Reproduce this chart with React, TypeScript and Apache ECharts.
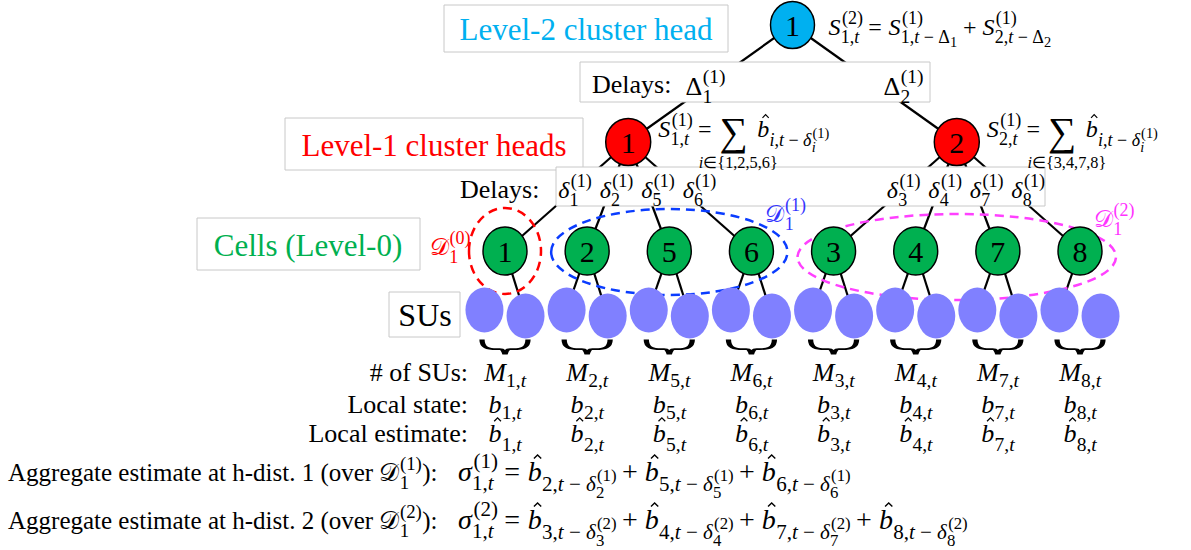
import React, { useEffect, useRef } from "react";
import * as echarts from "echarts";

// ------------------------------------------------------------------ data
const CELL_ORDER = [1, 2, 5, 6, 3, 4, 7, 8]; // cells (level-0), left to right
const LEVEL1_HEADS = [1, 2];
const LEVEL1_MEMBERS = [
  [1, 2, 5, 6],
  [3, 4, 7, 8],
];
const LEVEL2_HEAD = 1;
const SUS_PER_CELL = 2;
const NEIGHBOUR_SETS = [[1], [2, 5, 6], [3, 4, 7, 8]]; // D_1^(0), D_1^(1), D_1^(2)
const LEVEL_LABELS = ["Level-2 cluster head", "Level-1 cluster heads", "Cells (Level-0)", "SUs"];
const ROW_LABELS = ["# of SUs:", "Local state:", "Local estimate:"];
const DELAY_LABEL = "Delays:";
const AGG_LABELS = ["Aggregate estimate at h-dist. 1 (over", "Aggregate estimate at h-dist. 2 (over"];

// ------------------------------------------------------------------ layout / style
const W = 1191;
const H = 550;
const FONT = "'Liberation Serif', 'Times New Roman', serif";
const GRID_LEFT = 505;
const GRID_RIGHT = 111;
const ROW_Y = { l2: 25, l1: 142, l0: 251, su: 313, brace: 347 };
const SU_SPREAD = 0.5;
const SU_STAGGER = 6;
const NODE_SIZE = { l2: [44, 47], l1: [45, 47], l0: [44, 48], su: [38, 45] };
const SCRIPT = [0.75, 0.8];
const COL = {
  l2: "#00b0f0",
  l1: "#ff0000",
  l0: "#00b050",
  su: "#8080ff",
  sets: ["#ff0000", "#0a3cff", "#ff40ff"],
  setText: ["#ff0000", "#3535ff", "#ff33ff"],
  box: "#c8c8c8",
};
const ELLIPSE_SYMBOL = "path://M0,50 A50,50 0 1,1 100,50 A50,50 0 1,1 0,50 Z";
const BRACE_SYMBOL =
  "path://M0,0 C0,8 6,9 14,9 L17,9 C20,9 21,11 22,14 C23,11 24,9 27,9 L30,9 C38,9 44,8 44,0";

// ------------------------------------------------------------------ tiny math typesetter
type Atom = {
  t: string;
  it?: boolean;
  hat?: boolean;
  sub?: Atom[];
  sup?: Atom[];
  lim?: Atom[];
  big?: number;
  sl?: number;
  sr?: number;
};
const it = (t: string, sub?: Atom[], sup?: Atom[]): Atom => ({ t, it: true, sub, sup });
const rm = (t: string, sub?: Atom[], sup?: Atom[]): Atom => ({ t, sub, sup });
const hat = (t: string, sub?: Atom[], sup?: Atom[]): Atom => ({ t, it: true, hat: true, sub, sup });
const op = (t: string): Atom => ({ t, sl: 0.25, sr: 0.25 });
const rel = (t: string): Atom => ({ t, sl: 0.28, sr: 0.28 });
const it1t = (i: number | string): Atom[] => [rm(`${i},`), it("t")];

let mctx: CanvasRenderingContext2D | null = null;
const fontOf = (size: number, italic?: boolean) => `${italic ? "italic " : ""}${size.toFixed(1)}px ${FONT}`;
function textWidth(t: string, size: number, italic?: boolean) {
  if (!mctx) mctx = document.createElement("canvas").getContext("2d");
  mctx!.font = fontOf(size, italic);
  return mctx!.measureText(t).width;
}
function textEl(t: string, x: number, base: number, size: number, italic: boolean | undefined, color: string, align = "left") {
  return {
    type: "text",
    x,
    y: base - 0.34 * size,
    z: 20,
    silent: true,
    style: {
      text: t,
      font: fontOf(size, italic),
      fill: color,
      align,
      verticalAlign: "middle",
      textAlign: align,
      textVerticalAlign: "middle",
    },
  };
}
function layoutMath(
  atoms: Atom[],
  x: number,
  base: number,
  size: number,
  color: string,
  out: any[] | null,
  depth = 0
): number {
  let cx = x;
  for (const a of atoms) {
    cx += (a.sl || 0) * size;
    const s = size * (a.big || 1);
    const b = a.big ? base + size * 0.35 : base;
    const w = textWidth(a.t, s, a.it);
    if (out) {
      out.push(textEl(a.t, cx, b, s, a.it, color));
      if (a.hat) {
        const hc = cx + w / 2 + 0.1 * s;
        const hw = 0.13 * s;
        out.push({
          type: "polyline",
          z: 20,
          silent: true,
          shape: {
            points: [
              [hc - hw, b - 0.8 * s],
              [hc, b - 0.93 * s],
              [hc + hw, b - 0.8 * s],
            ],
          },
          style: { stroke: color, fill: "none", lineWidth: Math.max(1, 0.05 * s) },
        });
      }
    }
    const ss = Math.max(size * SCRIPT[Math.min(depth, 1)], 10);
    let sw = 0;
    if (a.sup)
      sw = Math.max(
        sw,
        layoutMath(a.sup, cx + w + (a.it ? 0.06 : 0.02) * size, base - 0.45 * size, ss, color, out, depth + 1)
      );
    if (a.sub)
      sw = Math.max(
        sw,
        layoutMath(
          a.sub,
          cx + w + 0.01 * size,
          base + size * (a.hat ? 0.36 : a.sup ? 0.32 : 0.22),
          ss,
          color,
          out,
          depth + 1
        )
      );
    if (a.lim && out) {
      const ls = size * 0.68;
      const lw = layoutMath(a.lim, 0, 0, ls, color, null, depth + 1);
      layoutMath(a.lim, cx + w / 2 + 0.2 * size - lw / 2, base + size * 1.28, ls, color, out, depth + 1);
    }
    cx += w + sw + (a.sr || 0) * size;
  }
  return cx - x;
}
const mathWidth = (atoms: Atom[], size: number) => layoutMath(atoms, 0, 0, size, "#000", null);

// ------------------------------------------------------------------ structure
const mean = (a: number[]) => a.reduce((s, v) => s + v, 0) / a.length;
const slotOf = (id: number) => CELL_ORDER.indexOf(id);
const cells = CELL_ORDER.map((id, i) => ({ id, slot: i }));
const heads1 = LEVEL1_HEADS.map((id, k) => ({ id, slot: mean(LEVEL1_MEMBERS[k].map(slotOf)), members: LEVEL1_MEMBERS[k] }));
const head2 = { id: LEVEL2_HEAD, slot: mean(heads1.map((h) => h.slot)) };
const sus = cells.flatMap((c) =>
  Array.from({ length: SUS_PER_CELL }, (_, k) => {
    const o = k - (SUS_PER_CELL - 1) / 2;
    return { cell: c, slot: c.slot + o * SU_SPREAD, y: ROW_Y.su + o * SU_STAGGER };
  })
);

function nodeItem(name: string, slot: number, y: number, size: number[], color: string, showLabel: boolean) {
  return {
    name,
    value: [slot, y],
    symbol: ELLIPSE_SYMBOL,
    symbolSize: size,
    itemStyle: { color, opacity: 1, borderColor: showLabel ? "#000" : color, borderWidth: showLabel ? 1.5 : 0 },
    label: {
      show: showLabel,
      position: "inside",
      formatter: name,
      fontFamily: FONT,
      fontSize: 30,
      color: "#000",
    },
  };
}

function baseOption() {
  const nodes = [
    nodeItem(String(head2.id), head2.slot, ROW_Y.l2, NODE_SIZE.l2, COL.l2, true),
    ...heads1.map((h) => nodeItem(String(h.id), h.slot, ROW_Y.l1, NODE_SIZE.l1, COL.l1, true)),
    ...cells.map((c) => nodeItem(String(c.id), c.slot, ROW_Y.l0, NODE_SIZE.l0, COL.l0, true)),
    ...sus.map((s) => nodeItem("", s.slot, s.y, NODE_SIZE.su, COL.su, false)),
  ];
  const edges = [
    ...heads1.map((h) => ({ coords: [[head2.slot, ROW_Y.l2], [h.slot, ROW_Y.l1]] })),
    ...heads1.flatMap((h) => h.members.map((m) => ({ coords: [[h.slot, ROW_Y.l1], [slotOf(m), ROW_Y.l0]] }))),
    ...sus.map((s) => ({ coords: [[s.cell.slot, ROW_Y.l0], [s.slot, s.y]] })),
  ];
  return {
    animation: false,
    backgroundColor: "#fff",
    grid: { left: GRID_LEFT, right: GRID_RIGHT, top: 0, bottom: 0 },
    xAxis: { type: "value", min: 0, max: CELL_ORDER.length - 1, show: false },
    yAxis: { type: "value", min: 0, max: H, inverse: true, show: false },
    series: [
      {
        type: "lines",
        coordinateSystem: "cartesian2d",
        z: 1,
        silent: true,
        lineStyle: { color: "#000", width: 2.2, opacity: 1 },
        data: edges,
      },
      { type: "scatter", z: 5, clip: false, silent: true, data: nodes },
      {
        type: "scatter",
        z: 5,
        clip: false,
        silent: true,
        symbol: BRACE_SYMBOL,
        symbolSize: [46, 15],
        itemStyle: { color: "rgba(0,0,0,0)", opacity: 1, borderColor: "#000", borderWidth: 3 },
        data: cells.map((c) => [c.slot, ROW_Y.brace]),
      },
    ],
  };
}

function box(x: number, y: number, w: number, h: number) {
  return {
    type: "rect",
    z: 3,
    silent: true,
    shape: { x, y, width: w, height: h },
    style: { fill: "#fff", stroke: COL.box, lineWidth: 1 },
  };
}

function buildGraphic(px: (slot: number, y: number) => number[]) {
  const out: any[] = [];
  const X = (slot: number) => px(slot, 0)[0];
  const put = (atoms: Atom[], x: number, base: number, size: number, color = "#000") =>
    layoutMath(atoms, x, base, size, color, out);
  const putC = (atoms: Atom[], cx: number, base: number, size: number, color = "#000") =>
    put(atoms, cx - mathWidth(atoms, size) / 2, base, size, color);

  // level label boxes
  out.push(box(444, 5, 284, 47));
  out.push(textEl(LEVEL_LABELS[0], 586, 40, 31, false, COL.l2, "center"));
  out.push(box(285, 118, 298, 52));
  out.push(textEl(LEVEL_LABELS[1], 434, 156, 31, false, COL.l1, "center"));
  out.push(box(197, 218, 223, 52));
  out.push(textEl(LEVEL_LABELS[2], 308, 256, 31, false, COL.l0, "center"));
  out.push(box(389, 292, 71, 45));
  out.push(textEl(LEVEL_LABELS[3], 425, 326, 32, false, "#000", "center"));

  // level-2 formula
  const x2 = X(head2.slot);
  const l2f: Atom[] = [
    it("S", it1t(head2.id), [rm("(2)")]),
    rel("="),
    ...heads1.flatMap((h, k) => [
      ...(k ? [op("+")] : []),
      it("S", [rm(`${h.id},`), it("t"), op("−"), rm("Δ", [rm(String(k + 1))])], [rm("(1)")]),
    ]),
  ];
  put(l2f, x2 + 36, 35, 24);

  // delays between level-2 and level-1
  out.push(box(580, 62, 350, 40));
  out.push(textEl(DELAY_LABEL, 592, 93, 26, false, "#000"));
  const dOff = [-107, 91];
  heads1.forEach((h, k) => put([rm("Δ", [rm(String(k + 1))], [rm("(1)")])], x2 + dOff[k], 95, 26));

  // level-1 formulas
  heads1.forEach((h) => {
    const hx = X(h.slot);
    const f: Atom[] = [
      it("S", it1t(h.id), [rm("(1)")]),
      rel("="),
      { t: "∑", big: 1.65, lim: [it("i"), rm(`∈{${h.members.join(",")}}`)], sl: 0.05, sr: 0.4 },
      hat("b", [it("i"), rm(","), it("t"), op("−"), it("δ", [it("i")], [rm("(1)")])]),
    ];
    put(f, hx + 30, 137, 24);
  });

  // delays between level-1 and cells
  out.push(box(556, 167, 489, 39));
  out.push(textEl(DELAY_LABEL, 460, 198, 26, false, "#000"));
  heads1.forEach((h) => {
    const hx = X(h.slot);
    h.members.forEach((m, j) => put([it("δ", [rm(String(m))], [rm("(1)")])], hx - 70 + j * 41.5, 198, 24));
  });

  // neighbourhood ellipses
  const setDy = [0, 1, 6];
  NEIGHBOUR_SETS.forEach((set, k) => {
    const xs = set.map((id) => X(slotOf(id)));
    const cx = (Math.min(...xs) + Math.max(...xs)) / 2;
    const rx = (Math.max(...xs) - Math.min(...xs)) / 2 + 36;
    const cy = ROW_Y.l0 + setDy[k];
    out.push({
      type: "ellipse",
      z: 4,
      silent: true,
      shape: { cx, cy, rx, ry: 43 },
      style: { fill: "none", stroke: COL.sets[k], lineWidth: 2.5, lineDash: [9, 6] },
    });
    const lab: Atom[] = [rm("𝒟", [rm("1")], [rm(`(${k})`)])];
    if (k === 0) put(lab, cx - rx + 1 - mathWidth(lab, 24), cy + 4, 24, COL.setText[k]);
    else put(lab, cx + rx - 22, cy - 30, 24, COL.setText[k]);
  });

  // table rows
  const rowBase = [381, 413, 442];
  ROW_LABELS.forEach((l, r) => out.push(textEl(l, 468, rowBase[r], 26, false, "#000", "right")));
  cells.forEach((c) => {
    const cx = X(c.slot);
    putC([it("M", it1t(c.id))], cx, rowBase[0], 26);
    putC([it("b", it1t(c.id))], cx, rowBase[1], 26);
    putC([hat("b", it1t(c.id))], cx, rowBase[2], 26);
  });

  // aggregate estimates
  const aggBase = [481, 529];
  [1, 2].forEach((h, r) => {
    const b = aggBase[r];
    let x = 8;
    out.push(textEl(AGG_LABELS[r], x, b, 25, false, "#000"));
    x += textWidth(AGG_LABELS[r] + " ", 25, false);
    x += put([rm("𝒟", [rm("1")], [rm(`(${h})`)])], x, b, 25);
    out.push(textEl("):", x + 1, b, 25, false, "#000"));
    const f: Atom[] = [
      it("σ", it1t(1), [rm(`(${h})`)]),
      rel("="),
      ...NEIGHBOUR_SETS[h].flatMap((j, k) => [
        ...(k ? [op("+")] : []),
        hat("b", [rm(`${j},`), it("t"), op("−"), it("δ", [rm(String(j))], [rm(`(${h})`)])]),
      ]),
    ];
    put(f, 458, b, 28);
  });
  return out;
}

export default function App() {
  const ref = useRef<HTMLDivElement>(null);
  useEffect(() => {
    const chart = echarts.init(ref.current!, null, { renderer: "svg" });
    chart.setOption(baseOption() as any);
    const px = (slot: number, y: number) => chart.convertToPixel({ gridIndex: 0 } as any, [slot, y]) as number[];
    chart.setOption({ graphic: { elements: buildGraphic(px) } } as any);
    return () => chart.dispose();
  }, []);
  return (
    <div
      ref={ref}
      style={{ position: "fixed", left: 0, top: 0, width: W, height: H, background: "#fff" }}
    />
  );
}
